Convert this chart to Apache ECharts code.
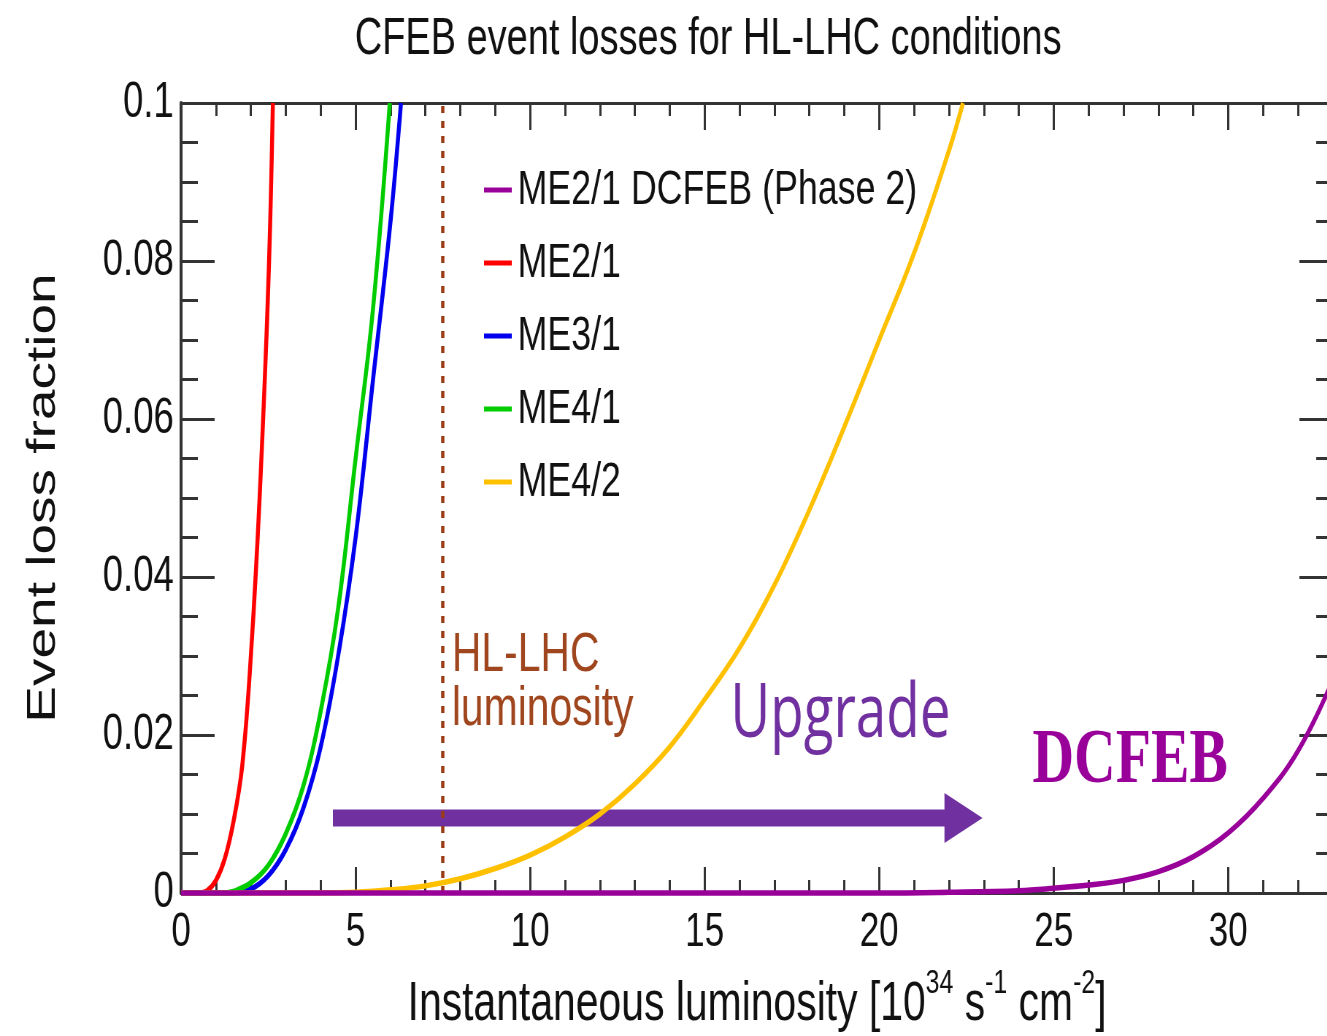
<!DOCTYPE html>
<html>
<head>
<meta charset="utf-8">
<title>CFEB event losses for HL-LHC conditions</title>
<script src="https://cdn.jsdelivr.net/npm/echarts@6/dist/echarts.min.js"></script>
<style>
  html, body { margin: 0; padding: 0; background: #fff; overflow: hidden; }
  /* the source figure is squeezed sideways, so draw it wide and squeeze it the same way */
  #chart {
    position: absolute; left: 0; top: 0;
    width: 1818px; height: 1036px;
    transform: scaleX(0.73); transform-origin: 0 0;
  }
</style>
</head>
<body>
<div id="chart"></div>
<script>
// x: instantaneous luminosity [10^34 s^-1 cm^-2], y: event loss fraction
const seriesNames = ['ME2/1 DCFEB (Phase 2)', 'ME2/1', 'ME3/1', 'ME4/1', 'ME4/2'];
const seriesColors = ['#990099', '#FF0000', '#0000EE', '#00CC00', '#FFC000'];

const lumDcfeb  = [0, 20, 22, 24, 25, 26, 27, 28, 29, 30, 31, 32, 33];
const lossDcfeb = [0, 0, 0.0001, 0.0003, 0.0006, 0.0010, 0.0016, 0.0027, 0.0046, 0.0076, 0.0120, 0.0180, 0.0270];

const lumMe21  = [0, 0.5, 0.75, 1.0, 1.25, 1.5, 1.75, 2.0, 2.25, 2.5, 2.63];
const lossMe21 = [0, 0, 0.0003, 0.0016, 0.0043, 0.0090, 0.0160, 0.0300, 0.0500, 0.0770, 0.1];

const lumMe31  = [0, 1.5, 2.0, 2.5, 3.0, 3.5, 4.0, 4.5, 5.0, 5.5, 6.0, 6.3];
const lossMe31 = [0, 0, 0.0005, 0.0022, 0.0055, 0.0107, 0.0185, 0.0300, 0.0450, 0.0650, 0.0850, 0.1];

const lumMe41  = [0, 1.25, 1.5, 2.0, 2.5, 3.0, 3.5, 4.0, 4.5, 5.0, 5.5, 5.98];
const lossMe41 = [0, 0, 0.0002, 0.0013, 0.0035, 0.0075, 0.0135, 0.0230, 0.0360, 0.0550, 0.0740, 0.1];

const lumMe42  = [0, 4, 5, 6, 7, 8, 9, 10, 11, 12, 13, 14, 15, 16, 17, 18, 19, 20, 21, 22, 22.4];
const lossMe42 = [0, 0, 0.0001, 0.0004, 0.0009, 0.0018, 0.0031, 0.0048, 0.0071, 0.0100, 0.0138, 0.0185,
                  0.0245, 0.0310, 0.0390, 0.0485, 0.0590, 0.0700, 0.0810, 0.0940, 0.1];

const lums = [lumDcfeb, lumMe21, lumMe31, lumMe41, lumMe42];
const losses = [lossDcfeb, lossMe21, lossMe31, lossMe41, lossMe42];

// axes
const xMin = 0, xMax = 33, xStep = 5;
const yMin = 0, yMax = 0.1, yStep = 0.02;
const hlLhcLumi = 7.5;

const font = "'Liberation Sans', Arial, Helvetica, sans-serif";
const axisColor = '#333';
const textColor = '#111';

const pairs = (xs, ys) => xs.map((x, i) => [x, ys[i]]);

const chart = echarts.init(document.getElementById('chart'));

const xAxisBase = {
  type: 'value', min: xMin, max: xMax, interval: xStep,
  axisLine: { show: true, onZero: false, lineStyle: { color: axisColor, width: 3 } },
  splitLine: { show: false },
  minorSplitLine: { show: false },
};
const yAxisBase = {
  type: 'value', min: yMin, max: yMax, interval: yStep,
  axisLine: { show: true, onZero: false, lineStyle: { color: axisColor, width: 4 } },
  axisTick: { show: true, inside: true, length: 46, lineStyle: { color: axisColor, width: 3 } },
  minorTick: { show: true, splitNumber: 4, length: 23, lineStyle: { color: axisColor, width: 3 } },
  splitLine: { show: false },
  minorSplitLine: { show: false },
};

const option = {
  animation: false,
  backgroundColor: '#fff',
  textStyle: { fontFamily: font },
  title: {
    text: 'CFEB event losses for HL-LHC conditions',
    left: 486, top: 14, padding: 0,
    textStyle: { fontSize: 52, fontWeight: 'normal', color: textColor, fontFamily: font }
  },
  legend: {
    data: seriesNames,
    orient: 'vertical',
    left: 663, top: 165, padding: 0,
    itemGap: 23, itemWidth: 38, itemHeight: 5,
    icon: 'rect',
    selectedMode: false,
    textStyle: { fontSize: 49, lineHeight: 50, color: textColor, fontFamily: font, padding: [0, 0, 0, 3] }
  },
  grid: { left: 248, right: -8, top: 103, bottom: 143, containLabel: false, outerBoundsMode: 'none' },
  xAxis: [
    Object.assign({}, xAxisBase, {
      position: 'bottom',
      axisTick: { show: true, inside: true, length: 26, lineStyle: { color: axisColor, width: 3 } },
      minorTick: { show: true, splitNumber: 5, length: 13, lineStyle: { color: axisColor, width: 3 } },
      axisLabel: { fontSize: 48, color: textColor, fontFamily: font, margin: 16, showMaxLabel: false },
      name: '{t|Instantaneous luminosity [10}{s|34}{t| s}{s|-1}{t| cm}{s|-2}{t|]}',
      nameLocation: 'middle',
      nameGap: 74,
      nameTextStyle: {
        rich: {
          t: { fontSize: 56, lineHeight: 76, color: textColor, fontFamily: font },
          s: { fontSize: 34, lineHeight: 34, verticalAlign: 'top', color: textColor, fontFamily: font }
        }
      }
    }),
    Object.assign({}, xAxisBase, {
      position: 'top',
      axisTick: { show: true, inside: true, length: 27, lineStyle: { color: axisColor, width: 3 } },
      minorTick: { show: true, splitNumber: 5, length: 13, lineStyle: { color: axisColor, width: 3 } },
      axisLabel: { show: false }
    })
  ],
  yAxis: [
    Object.assign({}, yAxisBase, {
      position: 'left',
      axisLabel: { fontSize: 50, color: textColor, fontFamily: font, margin: 10 },
      name: 'Event loss fraction',
      nameLocation: 'middle',
      nameGap: 161,
      nameTextStyle: { fontSize: 55, color: textColor, fontFamily: font }
    }),
    Object.assign({}, yAxisBase, {
      position: 'right',
      axisLabel: { show: false }
    })
  ],
  series: seriesNames.map((name, i) => ({
    name,
    type: 'line',
    data: pairs(lums[i], losses[i]),
    smooth: 0.4,
    symbol: 'none',
    showSymbol: false,
    clip: i !== 0,
    z: i === 0 ? 6 : 3,
    lineStyle: { color: seriesColors[i], width: 5.5 },
    itemStyle: { color: seriesColors[i] },
    markLine: i === 0 ? {
      silent: true,
      symbol: 'none',
      label: { show: false },
      lineStyle: { color: '#9A3C14', width: 4.5, type: [7, 8] },
      data: [{ xAxis: hlLhcLumi }]
    } : undefined
  }))
};

chart.setOption(option);

// annotations placed in data coordinates
const toPx = (x, y) => chart.convertToPixel({ xAxisIndex: 0, yAxisIndex: 0 }, [x, y]);
const [ax0, ay] = toPx(4.35, 0.0095);
const [axHead] = toPx(21.87, 0.0095);
const [axTip] = toPx(22.96, 0.0095);
const shaft = 8.5, head = 25;
const hl = toPx(7.84, 0.02658);
const up = toPx(15.86, 0.02247);
const dc = toPx(24.39, 0.01665);

chart.setOption({
  graphic: [
    {
      type: 'polygon', z: 1, silent: true,
      shape: { points: [
        [ax0, ay - shaft], [axHead, ay - shaft], [axHead, ay - head], [axTip, ay],
        [axHead, ay + head], [axHead, ay + shaft], [ax0, ay + shaft]
      ] },
      style: { fill: '#7030A0' }
    },
    {
      type: 'text', z: 10, silent: true,
      style: { text: 'HL-LHC\nluminosity', x: hl[0] - 4, y: hl[1], fontSize: 56, lineHeight: 54,
               fontFamily: font, fill: '#A0461E', align: 'left', verticalAlign: 'middle' }
    },
    {
      type: 'text', z: 10, silent: true,
      style: { text: 'Upgrade', x: up[0] - 6, y: up[1], fontSize: 75,
               fontFamily: "'Open Sans', 'Noto Sans', sans-serif", fill: '#7030A0',
               align: 'left', verticalAlign: 'middle' }
    },
    {
      type: 'text', z: 10, silent: true,
      style: { text: 'DCFEB', x: dc[0], y: dc[1], fontSize: 79, fontWeight: 'bold',
               fontFamily: "'Liberation Serif', 'Times New Roman', serif", fill: '#990099',
               align: 'left', verticalAlign: 'middle' }
    }
  ]
});

window.addEventListener('resize', () => chart.resize());
</script>
</body>
</html>
